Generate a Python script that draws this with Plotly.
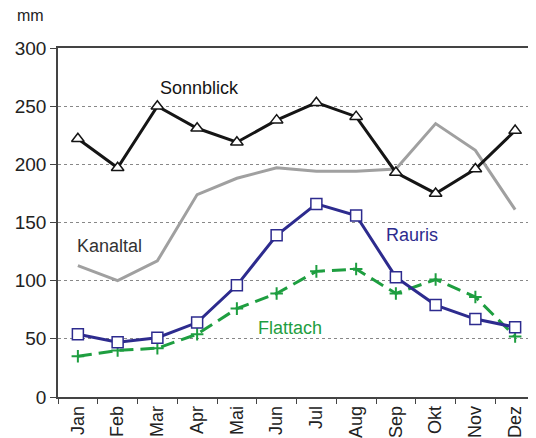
import plotly.graph_objects as go

# Monatsniederschlag (mm)
monate = ["Jan", "Feb", "Mar", "Apr", "Mai", "Jun", "Jul", "Aug", "Sep", "Okt", "Nov", "Dez"]
sonnblick = [222, 197, 250, 231, 219, 238, 253, 241, 193, 175, 196, 229]
kanaltal = [113, 100, 117, 174, 188, 197, 194, 194, 196, 235, 212, 161]
rauris = [54, 47, 51, 64, 96, 139, 166, 156, 103, 79, 67, 60]
flattach = [35, 40, 42, 54, 76, 89, 108, 110, 89, 101, 86, 52]

SCHRIFT = "Liberation Sans, Arial, sans-serif"
NAVY = "#2d2b8e"
GRUEN = "#1e9e40"
GRAU = "#a0a0a0"

fig = go.Figure()

fig.add_trace(go.Scatter(x=monate, y=kanaltal, mode="lines",
                         line=dict(color=GRAU, width=3), name="Kanaltal"))
fig.add_trace(go.Scatter(x=monate, y=sonnblick, mode="lines+markers",
                         line=dict(color="#151515", width=3),
                         marker=dict(symbol="triangle-up", size=11, color="white",
                                     line=dict(color="#151515", width=1.5)),
                         name="Sonnblick"))
fig.add_trace(go.Scatter(x=monate, y=flattach, mode="lines+markers",
                         line=dict(color=GRUEN, width=3, dash="14px,7px"),
                         marker=dict(symbol="cross-thin", size=9,
                                     line=dict(color=GRUEN, width=2)),
                         name="Flattach"))
fig.add_trace(go.Scatter(x=monate, y=rauris, mode="lines+markers",
                         line=dict(color=NAVY, width=3),
                         marker=dict(symbol="square", size=11, color="white",
                                     line=dict(color=NAVY, width=1.5)),
                         name="Rauris"))

# Beschriftungen direkt an den Linien
beschriftung = [
    ("Sonnblick", 3.07, 266, "#151515"),
    ("Kanaltal", 0.8, 130, "#333333"),
    ("Rauris", 8.4, 139, NAVY),
    ("Flattach", 5.33, 59, GRUEN),
]
for txt, xm, ym, col in beschriftung:
    fig.add_annotation(x=xm, y=ym, text=txt, showarrow=False,
                       font=dict(size=18, color=col, family=SCHRIFT))

fig.add_annotation(x=-0.058, y=1.0, xref="paper", yref="paper", xanchor="center", yanchor="middle",
                   text="mm", showarrow=False, yshift=33,
                   font=dict(size=16, color="#222222", family=SCHRIFT))

# Seite hat 8px Rand im Browser -> Figur etwas kleiner
fig.update_layout(
    width=528, height=430,
    margin=dict(l=50, r=1, t=40, b=41, autoexpand=False),
    plot_bgcolor="white", paper_bgcolor="white",
    showlegend=False,
    font=dict(family=SCHRIFT, color="#222222"),
)

fig.update_xaxes(
    range=[-0.5, 11.5], tickangle=-90, tickson="boundaries",
    ticks="outside", ticklen=5, tickcolor="#444444",
    tickfont=dict(size=18, color="#222222"),
    showline=True, linecolor="#444444", linewidth=1.5, mirror=True,
    showgrid=False, automargin=False,
)
fig.update_yaxes(
    range=[0, 300], tickvals=[0, 50, 100, 150, 200, 250, 300],
    ticks="outside", ticklen=6, tickcolor="#444444",
    tickfont=dict(size=19, color="#222222"),
    showline=True, linecolor="#444444", linewidth=1.5, mirror=True,
    showgrid=True, gridcolor="#888888", griddash="dot", gridwidth=1,
    zeroline=False, automargin=False,
)

fig.write_html("out.html")
